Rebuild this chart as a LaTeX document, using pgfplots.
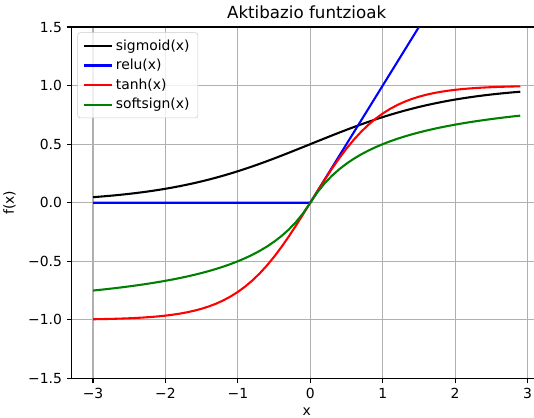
\documentclass[border=0pt]{standalone}
\usepackage{fontspec}
\setmainfont{DejaVu Sans}
\usepackage{pgfplots}
\usepackage{pgfplotstable}
\pgfplotsset{compat=1.18}
\definecolor{mplgrid}{HTML}{B0B0B0}
\definecolor{mplgreen}{rgb}{0,0.5,0}
\pgfplotstableread{
x sig relu tanh soft
-3.0 0.04743 0 -0.99505 -0.75
-2.9 0.05215 0 -0.99396 -0.74359
-2.8 0.05732 0 -0.99263 -0.73684
-2.7 0.06297 0 -0.99101 -0.72973
-2.6 0.06914 0 -0.98903 -0.72222
-2.5 0.07586 0 -0.98661 -0.71429
-2.4 0.08317 0 -0.98367 -0.70588
-2.3 0.09112 0 -0.98010 -0.69697
-2.2 0.09975 0 -0.97574 -0.68750
-2.1 0.10910 0 -0.97045 -0.67742
-2.0 0.11920 0 -0.96403 -0.66667
-1.9 0.13011 0 -0.95624 -0.65517
-1.8 0.14185 0 -0.94681 -0.64286
-1.7 0.15447 0 -0.93541 -0.62963
-1.6 0.16798 0 -0.92167 -0.61538
-1.5 0.18243 0 -0.90515 -0.60000
-1.4 0.19782 0 -0.88535 -0.58333
-1.3 0.21416 0 -0.86172 -0.56522
-1.2 0.23148 0 -0.83365 -0.54545
-1.1 0.24974 0 -0.80050 -0.52381
-1.0 0.26894 0 -0.76159 -0.50000
-0.9 0.28905 0 -0.71630 -0.47368
-0.8 0.31003 0 -0.66404 -0.44444
-0.7 0.33181 0 -0.60437 -0.41176
-0.6 0.35434 0 -0.53705 -0.37500
-0.5 0.37754 0 -0.46212 -0.33333
-0.4 0.40131 0 -0.37995 -0.28571
-0.3 0.42556 0 -0.29131 -0.23077
-0.2 0.45017 0 -0.19738 -0.16667
-0.1 0.47502 0 -0.09967 -0.09091
0.0 0.50000 0 0.00000 0.00000
0.1 0.52498 0.1 0.09967 0.09091
0.2 0.54983 0.2 0.19738 0.16667
0.3 0.57444 0.3 0.29131 0.23077
0.4 0.59869 0.4 0.37995 0.28571
0.5 0.62246 0.5 0.46212 0.33333
0.6 0.64566 0.6 0.53705 0.37500
0.7 0.66819 0.7 0.60437 0.41176
0.8 0.68997 0.8 0.66404 0.44444
0.9 0.71095 0.9 0.71630 0.47368
1.0 0.73106 1.0 0.76159 0.50000
1.1 0.75026 1.1 0.80050 0.52381
1.2 0.76852 1.2 0.83365 0.54545
1.3 0.78584 1.3 0.86172 0.56522
1.4 0.80218 1.4 0.88535 0.58333
1.5 0.81757 1.5 0.90515 0.60000
1.6 0.83202 1.6 0.92167 0.61538
1.7 0.84553 1.7 0.93541 0.62963
1.8 0.85815 1.8 0.94681 0.64286
1.9 0.86989 1.9 0.95624 0.65517
2.0 0.88080 2.0 0.96403 0.66667
2.1 0.89090 2.1 0.97045 0.67742
2.2 0.90025 2.2 0.97574 0.68750
2.3 0.90888 2.3 0.98010 0.69697
2.4 0.91683 2.4 0.98367 0.70588
2.5 0.92414 2.5 0.98661 0.71429
2.6 0.93086 2.6 0.98903 0.72222
2.7 0.93703 2.7 0.99101 0.72973
2.8 0.94268 2.8 0.99263 0.73684
2.9 0.94785 2.9 0.99396 0.74359
}\datatable
\begin{document}
\begin{tikzpicture}
\begin{axis}[
  scale only axis, width=338pt, height=252.7pt,
  xmin=-3.295, xmax=3.195, ymin=-1.5, ymax=1.5,
  xtick={-3,-2,-1,0,1,2,3},
  xticklabels={−3,−2,−1,0,1,2,3},
  ytick={-1.5,-1,-0.5,0,0.5,1,1.5},
  yticklabels={−1.5,−1.0,−0.5,0.0,0.5,1.0,1.5},
  tick pos=left, tick align=outside, major tick length=3.5pt,
  tick style={black, line width=0.8pt},
  axis line style={line width=0.8pt},
  grid=major, major grid style={mplgrid, line width=0.8pt},
  ticklabel style={font=\fontsize{10}{12}\selectfont},
  xlabel={x}, ylabel={f(x)},
  label style={font=\fontsize{10}{12}\selectfont},
  ylabel style={xshift=0pt, yshift=2pt},
  title={Aktibazio funtzioak},
  title style={font=\fontsize{12}{14}\selectfont, yshift=-3.5pt},
  legend style={at={(0.012,0.985)}, anchor=north west, draw=black!20, rounded corners=2pt,
    fill=white, fill opacity=0.8, text opacity=1, font=\fontsize{10}{12}\selectfont,
    row sep=1pt, inner xsep=4pt, inner ysep=3pt},
  legend cell align=left,
  legend image code/.code={\draw[#1] (0pt,0pt) -- (20pt,0pt);},
  every axis plot/.append style={line width=1.5pt},
]
\addplot[black] table[x=x, y=sig] {\datatable};
\addlegendentry{sigmoid(x)}
\addplot[blue] table[x=x, y=relu] {\datatable};
\addlegendentry{relu(x)}
\addplot[red] table[x=x, y=tanh] {\datatable};
\addlegendentry{tanh(x)}
\addplot[mplgreen] table[x=x, y=soft] {\datatable};
\addlegendentry{softsign(x)}
\coordinate (BL) at (axis cs:-4.285,-1.833);
\coordinate (TR) at (axis cs:3.09,1.731);
\end{axis}
\pgfresetboundingbox
\path[use as bounding box] (BL) rectangle (TR);
\end{tikzpicture}
\end{document}
